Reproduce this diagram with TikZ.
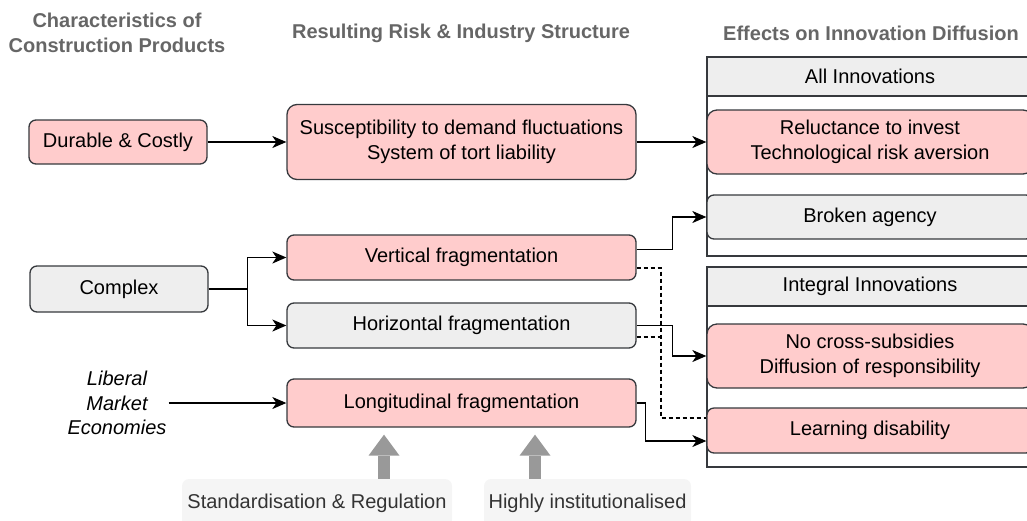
\documentclass[tikz,border=0pt]{standalone}
\usepackage{fontspec}
\setmainfont{Liberation Sans}
\usetikzlibrary{positioning, arrows.meta}

\definecolor{pinkfill}{HTML}{FFCCCC}
\definecolor{greyfill}{HTML}{EEEEEE}
\definecolor{boxline}{HTML}{36393D}
\definecolor{hdrtext}{HTML}{666666}
\definecolor{bigarrow}{HTML}{999999}
\definecolor{notefill}{HTML}{F5F5F5}
\definecolor{notetext}{HTML}{333333}

\tikzset{
    box/.style={draw=boxline, line width=1.3pt, rounded corners=7pt, align=center, inner sep=0pt},
    pinkbox/.style={box, fill=pinkfill},
    greybox/.style={box, fill=greyfill},
    hdr/.style={text=hdrtext, font=\bfseries, align=center},
    lane/.style={draw=boxline, line width=2pt, inner sep=0pt, minimum width=326pt},
    lanehead/.style={lane, fill=greyfill, minimum height=39pt},
    link/.style={line width=1.3pt, -{Stealth[length=14pt, width=12pt, inset=4pt]}},
    dlink/.style={line width=1.3pt, dash pattern=on 4pt off 3pt},
    bigup/.style={line width=12pt, draw=bigarrow, -{Triangle[length=21pt, width=31pt, line width=0pt]}, shorten >=7pt},
    note/.style={fill=notefill, text=notetext, rounded corners=7pt, inner sep=0pt, minimum height=48pt}
}

\begin{document}
\fontsize{20}{24.5}\selectfont
\begin{tikzpicture}[x=1pt, y=-1pt]

    \clip (0,0) rectangle (1027,520);

    \node[hdr] (charhead) at (117,33) {Characteristics of\\Construction Products};
    \node[hdr] (riskhead) at (461,33) {Resulting Risk \& Industry Structure};
    \node[hdr] (effhead) at (871,33) {Effects on Innovation Diffusion};

    \node[pinkbox, minimum width=178pt, minimum height=44pt] (dur) at (118,142) {Durable \& Costly};
    \node[greybox, minimum width=178pt, minimum height=46pt] (cmp) at (119,289) {Complex};
    \node[align=center, font=\itshape, inner sep=2pt] (lib) at (117,403) {Liberal\\Market\\Economies};

    \node[pinkbox, minimum width=349pt, minimum height=75pt, rounded corners=10pt] (sus) at (461.5,142) {Susceptibility to demand fluctuations\\System of tort liability};
    \node[pinkbox, minimum width=349pt, minimum height=45pt] (ver) at (461.5,257.5) {Vertical fragmentation};
    \node[greybox, minimum width=349pt, minimum height=45pt] (hor) at (461.5,325.5) {Horizontal fragmentation};
    \node[pinkbox, minimum width=349pt, minimum height=48pt] (lon) at (461.5,403) {Longitudinal fragmentation};

    \node[lane, minimum height=199pt] (alllane) at (870,156.5) {};
    \node[lanehead] (allhead) at (870,76.5) {All Innovations};
    \node[pinkbox, minimum width=326pt, minimum height=64pt, rounded corners=10pt] (rel) at (870,142) {Reluctance to invest\\Technological risk aversion};
    \node[greybox, minimum width=326pt, minimum height=44pt] (brk) at (870,217) {Broken agency};

    \node[lane, minimum height=200pt] (intlane) at (870,367) {};
    \node[lanehead] (inthead) at (870,286.5) {Integral Innovations};
    \node[pinkbox, minimum width=326pt, minimum height=64pt, rounded corners=10pt] (ncs) at (870,356) {No cross-subsidies\\Diffusion of responsibility};
    \node[pinkbox, minimum width=326pt, minimum height=45pt] (lrn) at (870,430.5) {Learning disability};

    \node[note, minimum width=270pt] (std) at (317,503) {Standardisation \& Regulation};
    \node[note, minimum width=207pt] (hin) at (587.5,503) {Highly institutionalised};

    \draw[link] (dur) -- (sus);
    \draw[link] (sus) -- (rel);
    \draw[link] (cmp.east) -- ++(39,0) |- (ver.west);
    \draw[link] (cmp.east) -- ++(39,0) |- (hor.west);
    \draw[link] (lib) -- (lon);

    \draw[link] ([yshift=8pt]ver.east) -- ++(36,0) |- (brk.west);
    \draw[link] (hor.east) -- ++(36,0) |- (ncs.west);
    \draw[link] (lon.east) -- ++(9,0) |- ([yshift=-10.5pt]lrn.west);

    \coordinate (dj) at (661,418);
    \draw[dlink] ([yshift=-10.5pt]ver.east) -| (dj) -- (dj -| lrn.west);
    \draw[dlink] ([yshift=-11.5pt]hor.east) -- ([yshift=-11.5pt]hor.east -| dj);

    \draw[bigup] ([xshift=67pt]std.north) -- ([xshift=67pt]std.north |- lon.south);
    \draw[bigup] ([xshift=-52.5pt]hin.north) -- ([xshift=-52.5pt]hin.north |- lon.south);

\end{tikzpicture}
\end{document}
